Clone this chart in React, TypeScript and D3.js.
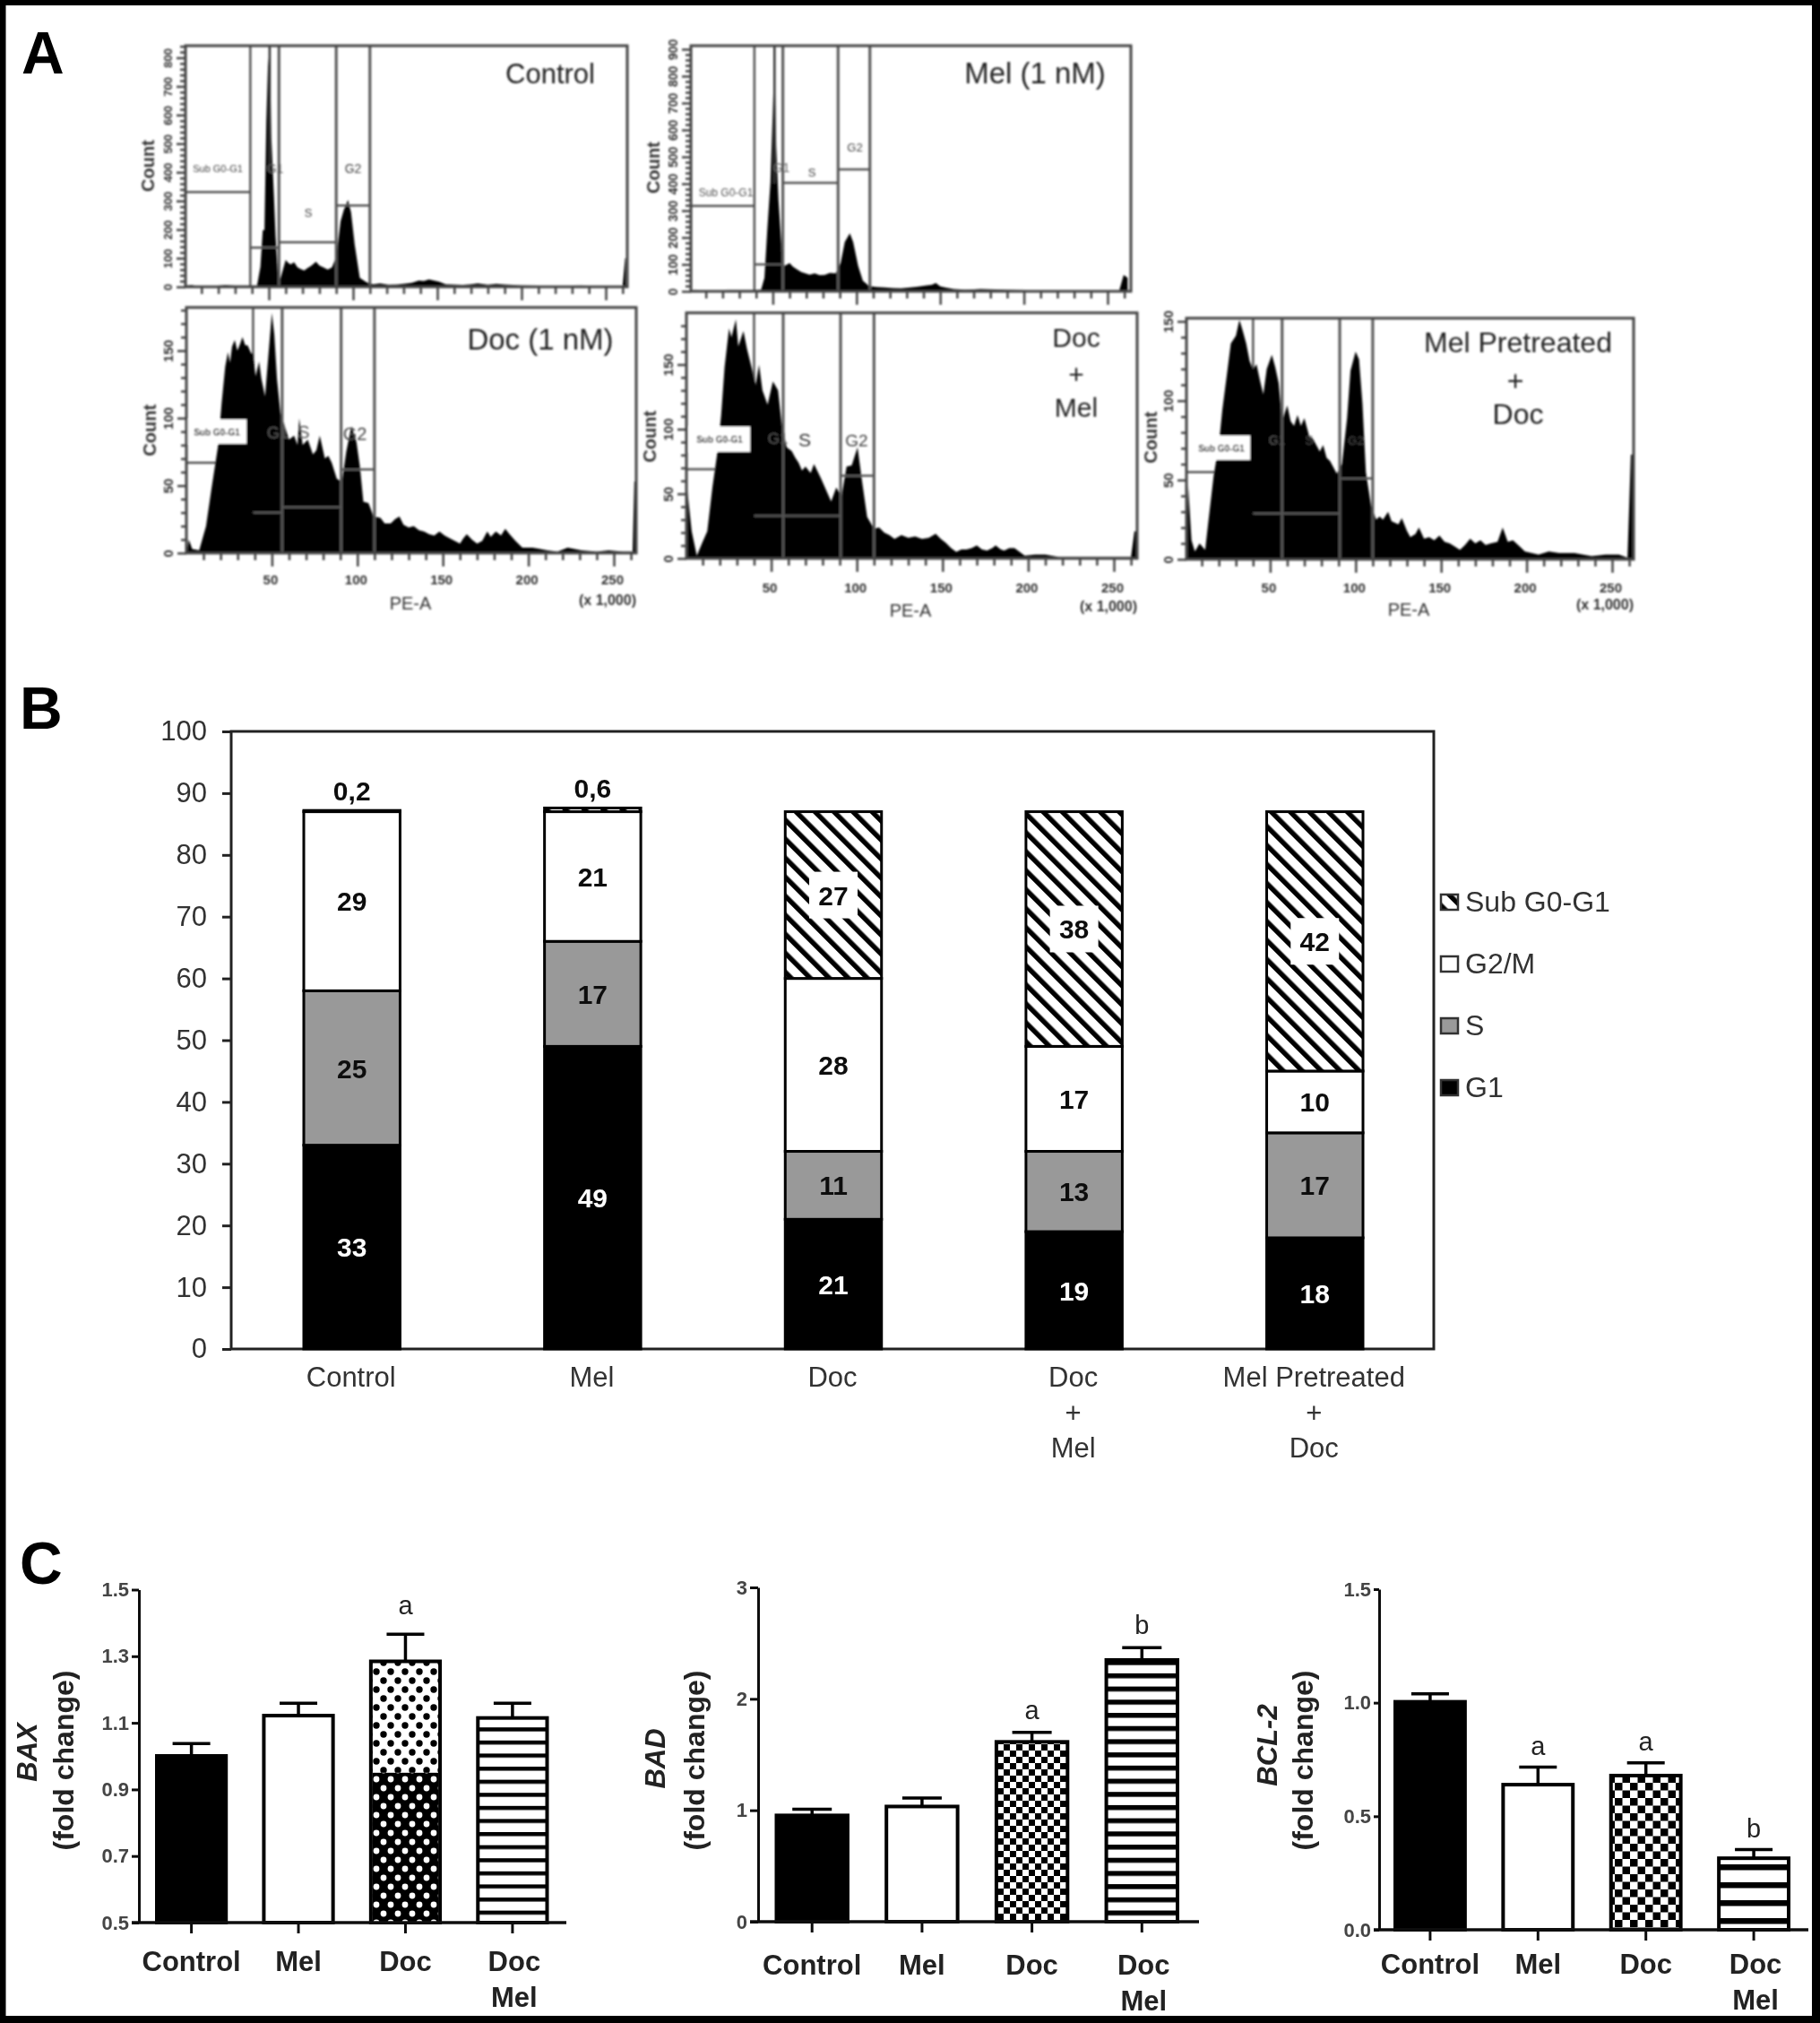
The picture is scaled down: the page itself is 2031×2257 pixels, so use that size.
import React, { useEffect, useRef } from "react";
import * as d3 from "d3";

const WIDTH = 2031;
const HEIGHT = 2257;
const FONT = "'Liberation Sans', Arial, Helvetica, sans-serif";

// ==========================
// Panel A: histograms as [PE-A (x 1,000), count]
// ==========================
const controlHist = [[0, 2], [1, 4], [4, 6], [7, 2], [18, 2], [24, 6], [30, 4], [38, 4], [43, 4], [45, 70], [46.4, 198], [47.4, 198], [48.5, 572], [49.5, 770], [50.5, 832], [51.5, 520], [53, 322], [54, 177], [55.6, 21], [57, 31], [60, 94], [61.5, 84], [63, 78], [65, 86], [67, 68], [69, 62], [71, 57], [73, 66], [75, 73], [78, 88], [80, 74], [82.3, 68], [85, 60], [87.5, 68], [90, 104], [92.6, 229], [94.6, 270], [97, 304], [98.8, 260], [101, 146], [104, 31], [108, 16], [112, 9], [116, 12], [121, 7], [126, 8], [131, 11], [135, 14], [139, 22], [142, 20], [145, 26], [148, 22], [151, 18], [155, 9], [159, 8], [165, 6], [170, 9], [174, 12], [180, 7], [185, 10], [190, 8], [200, 5], [211, 3], [222, 2], [235, 4], [248, 2], [260, 2], [261.5, 100], [262, 100]];

const melHist = [[0, 2], [3, 4], [12, 2], [24, 4], [32, 4], [39, 4], [43, 6], [45, 50], [46.7, 228], [48.6, 405], [50, 672], [51, 870], [52, 540], [53.4, 339], [55.3, 161], [57, 94], [60, 105], [62, 92], [64, 83], [67, 72], [69.5, 67], [72, 62], [75, 67], [78, 60], [81, 61], [84, 68], [87.6, 67], [90.5, 105], [93, 183], [96, 216], [98, 183], [101, 94], [103.8, 39], [107.6, 19], [112, 16], [117, 14], [122, 12], [126.6, 11], [132, 14], [136, 17], [141.7, 22], [145, 24], [147.4, 31], [150, 18], [153, 14], [158, 8], [164.6, 6], [170, 7], [174, 8], [183, 7], [193, 5], [212, 2], [240, 2], [257, 3], [259.6, 61], [262, 50]];

const docHist = [[0, 0], [1.4, 10], [3.4, 3], [7.5, 2], [11.5, 20], [14.6, 47], [18.6, 80], [20.6, 111], [22.7, 138], [24.3, 149], [25.5, 141], [26.7, 153], [28.3, 158], [29.8, 150], [31.4, 155], [32.8, 160], [34.4, 154], [35.8, 154], [37.9, 148], [38.9, 148], [40.5, 131], [42.5, 142], [43.9, 129], [46, 116], [48, 147], [50, 178], [51.4, 162], [53, 129], [55, 104], [57, 96], [60, 84], [63, 87], [65, 80], [66, 100], [68, 80], [71, 84], [74, 73], [76, 76], [78, 87], [81, 70], [83, 72], [85, 67], [88, 55], [91, 53], [93.5, 75], [96.5, 94], [99.5, 82], [101.5, 64], [103.5, 38], [106.5, 37], [109.5, 27], [113.5, 26], [116, 22], [119.5, 22], [122, 25], [124.6, 27], [127, 21], [130, 19], [133, 20], [136, 17], [139, 16], [142, 14], [145, 13], [148, 16], [151, 13], [154, 11], [157, 9], [160, 7], [162, 11], [164, 14], [167, 10], [170, 7], [173, 9], [176, 16], [178, 12], [181, 16], [184, 13], [186.5, 18], [189, 14], [192.5, 9], [196.5, 4], [202.5, 4], [207, 3], [211, 2], [217, 1], [223, 4], [231, 2], [240, 1], [247, 2], [255, 1], [261, 1], [262, 53], [263, 53]];

const docMelHist = [[0, 0], [1, 53], [3.6, 21], [6.6, 2], [9.7, 12], [12.7, 21], [15.7, 55], [18.7, 83], [20.8, 111], [22.8, 148], [25.4, 178], [26.8, 171], [29.4, 185], [30.8, 164], [33.8, 176], [35.9, 162], [38.9, 146], [40.9, 134], [42.9, 150], [44.9, 130], [47.9, 119], [51, 137], [54, 130], [56, 106], [59, 86], [62, 83], [64, 78], [66, 74], [68, 68], [70, 71], [73, 66], [75, 73], [79, 62], [82, 53], [85, 44], [88, 55], [91, 48], [94, 71], [97, 72], [100.4, 86], [103, 60], [106, 32], [110, 23], [113, 24], [116, 20], [119, 18], [122, 15], [126, 18], [130, 16], [134, 17], [138, 15], [142, 16], [146, 19], [149, 15], [152, 12], [155, 8], [158, 5], [161, 7], [164, 7], [167, 8], [170, 10], [173, 7], [176, 6], [179, 8], [181, 10], [184, 7], [186, 6], [189, 8], [192, 8], [198, 2], [204, 3], [210, 3], [218, 1], [240, 1], [260, 1], [262, 21], [264, 21]];

const melPreHist = [[0, 0], [1.4, 20], [2, 47], [4, 12], [6, 5], [8.7, 10], [12, 6], [14, 25], [17, 53], [20, 72], [22, 94], [25, 119], [27, 136], [30, 141], [32, 151], [34, 144], [36, 136], [38, 125], [40, 120], [42, 123], [44, 113], [46, 104], [48, 120], [51, 129], [53, 121], [55, 111], [57, 87], [60, 97], [62, 87], [64, 84], [66, 91], [68, 84], [70, 89], [73, 77], [75, 76], [77, 72], [79, 68], [81, 72], [83, 64], [85, 62], [89, 54], [92, 60], [95, 89], [97, 119], [100, 131], [102, 126], [104, 98], [106, 55], [109, 34], [112, 25], [114, 27], [116, 25], [119, 30], [121, 24], [123, 23], [125, 22], [127, 26], [130, 18], [132, 14], [135, 16], [137, 20], [140, 13], [143, 14], [146, 12], [149, 15], [152, 11], [155, 10], [158, 8], [161, 6], [164, 9], [167, 13], [170, 10], [173, 12], [176, 9], [179, 10], [183, 11], [186, 20], [189, 11], [192, 12], [196, 8], [199, 5], [207, 3], [213, 5], [219, 4], [228, 4], [238, 2], [246, 3], [254, 3], [259, 1], [261, 66], [263, 66]];

// ==========================
// Panel B: cell cycle percentages
// ==========================
const phaseGroups = ["Control", "Mel", "Doc", "Doc + Mel", "Mel Pretreated + Doc"];
const phaseKeys = ["G1", "S", "G2/M", "Sub G0-G1"];
const g1Values = [33, 49, 21, 19, 18];
const sValues = [25, 17, 11, 13, 17];
const g2Values = [29, 21, 28, 17, 10];
const subValues = [0.2, 0.6, 27, 38, 42];
const subLabels = ["0,2", "0,6", "27", "38", "42"];
const phaseTicks = [0, 10, 20, 30, 40, 50, 60, 70, 80, 90, 100];
const groupLabelLines = [["Control"], ["Mel"], ["Doc"], ["Doc", "+", "Mel"], ["Mel Pretreated", "+", "Doc"]];

// ==========================
// Panel C: fold changes
// ==========================
const foldGroups = ["Control", "Mel", "Doc", "Doc Mel"];
const baxValues = [1.006, 1.127, 1.29, 1.12];
const baxErrors = [1.038, 1.159, 1.366, 1.159];
const baxLetters = ["", "", "a", ""];
const badValues = [0.97, 1.05, 1.63, 2.365];
const badErrors = [1.01, 1.11, 1.7, 2.46];
const badLetters = ["", "", "a", "b"];
const bclValues = [1.012, 0.647, 0.687, 0.323];
const bclErrors = [1.039, 0.716, 0.735, 0.353];
const bclLetters = ["", "a", "a", "b"];

// layout of the five histograms, in page pixels
const histPanels = [
  {
    data: controlHist, left: 207, right: 700, top: 51, base: 320, x0: 206, x250: 676, topCount: 842,
    gates: [39, 56, 90, 110], levels: [331, 137, 156, 284], yMinor: 20, yMajor: 100, yMax: 800, yFont: 13,
    xLabels: false, countX: 165, countY: 185, peak: 50.5,
  },
  {
    data: melHist, left: 771, right: 1262, top: 51, base: 325, x0: 769, x250: 1236, topCount: 913,
    gates: [39, 56, 89, 108], levels: [317, 100, 403, 453], yMinor: 20, yMajor: 100, yMax: 900, yFont: 14,
    xLabels: false, countX: 729, countY: 187, peak: 51,
  },
  {
    data: docHist, left: 208, right: 710, top: 343, base: 617, x0: 208, x250: 685, topCount: 182,
    gates: [39, 56, 90.5, 110], levels: [67, 30, 34, 62], yMinor: 10, yMajor: 50, yMax: 150, yFont: 15,
    xLabels: true, countX: 167, countY: 480, tickBase: 652, peX: 458, peBase: 680, kBase: 675,
    box: [209, 468, 66, 27],
  },
  {
    data: docMelHist, left: 766, right: 1269, top: 349, base: 623, x0: 765, x250: 1243, topCount: 190,
    gates: [40, 57, 90.5, 110], levels: [69, 33, 33, 64], yMinor: 10, yMajor: 50, yMax: 150, yFont: 15,
    xLabels: true, countX: 725, countY: 487, tickBase: 661, peX: 1016, peBase: 688, kBase: 682,
    box: [769, 476, 68, 28],
  },
  {
    data: melPreHist, left: 1324, right: 1823, top: 355, base: 624, x0: 1322, x250: 1799, topCount: 152,
    gates: [40, 57, 90.7, 110], levels: [55, 29, 29, 51], yMinor: 10, yMajor: 50, yMax: 150, yFont: 15,
    xLabels: true, countX: 1284, countY: 488, tickBase: 661, peX: 1572, peBase: 687, kBase: 680,
    box: [1331, 486, 64, 27],
  },
];

// text placed by hand on panel A
const histTexts = [
  { t: "Control", x: 614, y: 93, size: 31, fill: "#222" },
  { t: "Mel (1 nM)", x: 1155, y: 93, size: 33, fill: "#222" },
  { t: "Doc (1 nM)", x: 603, y: 390, size: 33, fill: "#222" },
  { t: "Doc", x: 1201, y: 387, size: 30, fill: "#222" },
  { t: "+", x: 1201, y: 428, size: 30, fill: "#222" },
  { t: "Mel", x: 1201, y: 465, size: 30, fill: "#222" },
  { t: "Mel Pretreated", x: 1694, y: 393, size: 32, fill: "#222" },
  { t: "+", x: 1691, y: 436, size: 32, fill: "#222" },
  { t: "Doc", x: 1694, y: 473, size: 32, fill: "#222" },
  { t: "Sub G0-G1", x: 243, y: 192, size: 11, fill: "#444" },
  { t: "G1", x: 307, y: 193, size: 14, fill: "#555" },
  { t: "S", x: 344, y: 242, size: 13, fill: "#444" },
  { t: "G2", x: 394, y: 193, size: 14, fill: "#444" },
  { t: "Sub G0-G1", x: 810, y: 219, size: 12, fill: "#555" },
  { t: "G1", x: 872, y: 192, size: 14, fill: "#666" },
  { t: "S", x: 906, y: 197, size: 13, fill: "#444" },
  { t: "G2", x: 954, y: 169, size: 13, fill: "#444" },
  { t: "Sub G0-G1", x: 242, y: 486, size: 10, fill: "#222", weight: "bold" },
  { t: "G1", x: 310, y: 489, size: 18, fill: "#555" },
  { t: "S", x: 339, y: 489, size: 20, fill: "#555" },
  { t: "G2", x: 396, y: 491, size: 20, fill: "#444" },
  { t: "Sub G0-G1", x: 803, y: 494, size: 10, fill: "#222", weight: "bold" },
  { t: "G1", x: 868, y: 495, size: 17, fill: "#555" },
  { t: "S", x: 898, y: 498, size: 21, fill: "#333" },
  { t: "G2", x: 956, y: 498, size: 19, fill: "#444" },
  { t: "Sub G0-G1", x: 1363, y: 504, size: 10, fill: "#222", weight: "bold" },
  { t: "G1", x: 1425, y: 496, size: 14, fill: "#555" },
  { t: "S", x: 1461, y: 496, size: 14, fill: "#444" },
  { t: "G2", x: 1513, y: 496, size: 13, fill: "#444" },
];

// the three bar charts of panel C
const foldCharts = [
  {
    values: baxValues, errors: baxErrors, letters: baxLetters,
    domain: [0.5, 1.5], ticks: [0.5, 0.7, 0.9, 1.1, 1.3, 1.5], format: ".1f",
    axisX: 155, top: 1773.5, base: 2145, barLeft: 173, barRight: 612.5, axisEnd: 632, tickIn: 8,
    fills: ["#000", "#fff", "url(#dotsLight)", "url(#linesFine)"], letterGap: 22, capWidth: 42,
    name: "BAX", nameX: 41, foldX: 81.5, nameY: 1955, labelBase: 54, labelShift: 0,
  },
  {
    values: badValues, errors: badErrors, letters: badLetters,
    domain: [0, 3], ticks: [0, 1, 2, 3], format: "d",
    axisX: 846, top: 1771, base: 2144, barLeft: 864.5, barRight: 1316, axisEnd: 1338, tickIn: 9,
    fills: ["#000", "#fff", "url(#checkFine)", "url(#linesMid)"], letterGap: 15, capWidth: 44,
    name: "BAD", nameX: 742, foldX: 786, nameY: 1962, labelBase: 59, labelShift: 0,
  },
  {
    values: bclValues, errors: bclErrors, letters: bclLetters,
    domain: [0, 1.5], ticks: [0, 0.5, 1, 1.5], format: ".1f",
    axisX: 1539, top: 1773, base: 2153, barLeft: 1555, barRight: 1998, axisEnd: 2018, tickIn: 6,
    fills: ["#000", "#fff", "url(#checkWide)", "url(#linesWide)"], letterGap: 14, capWidth: 42,
    name: "BCL-2", nameX: 1425, foldX: 1465, nameY: 1947, labelBase: 49, labelShift: 0,
  },
];

function addPatterns(defs) {
  const hatch = defs.append("pattern").attr("id", "hatch").attr("patternUnits", "userSpaceOnUse")
    .attr("width", 15).attr("height", 15).attr("patternTransform", "rotate(-45)");
  hatch.append("rect").attr("width", 15).attr("height", 15).attr("fill", "#fff");
  hatch.append("rect").attr("width", 5.5).attr("height", 15).attr("fill", "#000");

  const dots = (id, r, rx, ry, bg, fg) => {
    const p = defs.append("pattern").attr("id", id).attr("patternUnits", "userSpaceOnUse")
      .attr("width", rx * 2).attr("height", ry * 2);
    p.append("rect").attr("width", rx * 2).attr("height", ry * 2).attr("fill", bg);
    p.append("circle").attr("cx", rx / 2).attr("cy", ry / 2).attr("r", r).attr("fill", fg);
    p.append("circle").attr("cx", rx * 1.5).attr("cy", ry * 1.5).attr("r", r).attr("fill", fg);
  };
  dots("dotsLight", 3.7, 8, 10, "#fff", "#000");
  dots("dotsDense", 3.4, 8, 10, "#000", "#fff");

  const check = (id, cell) => {
    const p = defs.append("pattern").attr("id", id).attr("patternUnits", "userSpaceOnUse")
      .attr("width", cell * 2).attr("height", cell * 2);
    p.append("rect").attr("width", cell * 2).attr("height", cell * 2).attr("fill", "#fff");
    p.append("rect").attr("width", cell).attr("height", cell).attr("fill", "#000");
    p.append("rect").attr("x", cell).attr("y", cell).attr("width", cell).attr("height", cell).attr("fill", "#000");
  };
  check("checkFine", 7);
  check("checkWide", 8.5);

  const lines = (id, period, thick) => {
    const p = defs.append("pattern").attr("id", id).attr("patternUnits", "userSpaceOnUse")
      .attr("width", 20).attr("height", period);
    p.append("rect").attr("width", 20).attr("height", period).attr("fill", "#fff");
    p.append("rect").attr("width", 20).attr("height", thick).attr("fill", "#000");
  };
  lines("linesFine", 14.6, 4.5);
  lines("linesMid", 14.7, 5.5);
  lines("linesWide", 20, 6.5);
}

function drawHistogram(root, defs, panel, index) {
  const x = d3.scaleLinear().domain([0, 250]).range([panel.x0, panel.x250]);
  const y = d3.scaleLinear().domain([0, panel.topCount]).range([panel.base, panel.top]);
  const g = root.append("g").attr("font-family", FONT);

  defs.append("clipPath").attr("id", `frame${index}`).append("rect")
    .attr("x", panel.left).attr("y", panel.top)
    .attr("width", panel.right - panel.left).attr("height", panel.base - panel.top);

  const [g1, g2, g3, g4] = panel.gates;
  const [subLevel, g1Level, sLevel, g2Level] = panel.levels;
  const gateColor = "#555";

  // these two sit under the black histogram
  g.append("line").attr("x1", x(g1)).attr("x2", x(g1)).attr("y1", panel.top).attr("y2", panel.base)
    .attr("stroke", gateColor).attr("stroke-width", 2.5);
  g.append("line").attr("x1", panel.left).attr("x2", x(g1)).attr("y1", y(subLevel)).attr("y2", y(subLevel))
    .attr("stroke", gateColor).attr("stroke-width", 2.5);

  const area = d3.area().x(d => x(d[0])).y0(panel.base).y1(d => y(d[1]));
  g.append("path").datum(panel.data).attr("d", area).attr("fill", "#000")
    .attr("clip-path", `url(#frame${index})`);

  // the G1 peak of the untreated panels runs on to the frame as a thin dark line
  if (panel.peak) {
    g.append("line").attr("x1", x(panel.peak)).attr("x2", x(panel.peak)).attr("y1", panel.top).attr("y2", y(400))
      .attr("stroke", "#333").attr("stroke-width", 2.5);
  }

  [g2, g3, g4].forEach(v => {
    g.append("line").attr("x1", x(v)).attr("x2", x(v)).attr("y1", panel.top).attr("y2", panel.base)
      .attr("stroke", gateColor).attr("stroke-width", 3);
  });
  [[g1, g2, g1Level], [g2, g3, sLevel], [g3, g4, g2Level]].forEach(([a, b, level]) => {
    g.append("line").attr("x1", x(a)).attr("x2", x(b)).attr("y1", y(level)).attr("y2", y(level))
      .attr("stroke", gateColor).attr("stroke-width", 2.5);
  });

  if (panel.box) {
    g.append("rect").attr("x", panel.box[0]).attr("y", panel.box[1])
      .attr("width", panel.box[2]).attr("height", panel.box[3]).attr("fill", "#fff");
  }

  g.append("rect").attr("x", panel.left).attr("y", panel.top)
    .attr("width", panel.right - panel.left).attr("height", panel.base - panel.top)
    .attr("fill", "none").attr("stroke", "#444").attr("stroke-width", 3);

  // count axis
  const yAxis = d3.axisLeft(y)
    .tickValues(d3.range(0, panel.topCount, panel.yMinor))
    .tickFormat(d => (d % panel.yMajor === 0 && d <= panel.yMax ? d : ""))
    .tickSizeOuter(0);
  const yG = g.append("g").attr("transform", `translate(${panel.left},0)`).call(yAxis);
  yG.select(".domain").remove();
  yG.selectAll("line").attr("x2", d => (d % panel.yMajor === 0 ? -10 : -6))
    .attr("stroke", "#444").attr("stroke-width", 2.5);
  yG.selectAll("text").attr("transform", "rotate(-90)")
    .attr("x", 0).attr("y", -15).attr("dy", 0)
    .attr("text-anchor", "middle").attr("font-size", panel.yFont)
    .attr("font-weight", "bold").attr("font-family", FONT).attr("fill", "#333");

  // PE-A axis
  const xAxis = d3.axisBottom(x)
    .tickValues(d3.range(10, 261, 10))
    .tickFormat(d => (panel.xLabels && d % 50 === 0 ? d : ""))
    .tickSizeOuter(0);
  const xG = g.append("g").attr("transform", `translate(0,${panel.base})`).call(xAxis);
  xG.select(".domain").remove();
  xG.selectAll("line").attr("y2", d => (d % 50 === 0 ? 15 : 8))
    .attr("stroke", "#444").attr("stroke-width", 2.5);
  xG.selectAll("text").attr("y", (panel.tickBase || 0) - panel.base).attr("dy", 0).attr("x", -2)
    .attr("font-size", 15).attr("font-weight", "bold").attr("font-family", FONT).attr("fill", "#333");

  g.append("text").attr("transform", `translate(${panel.countX + 7},${panel.countY}) rotate(-90)`)
    .attr("text-anchor", "middle").attr("font-size", 20).attr("font-weight", "bold").attr("fill", "#333")
    .text("Count");

  if (panel.xLabels) {
    g.append("text").attr("x", panel.peX).attr("y", panel.peBase).attr("text-anchor", "middle")
      .attr("font-size", 20).attr("fill", "#333").text("PE-A");
    g.append("text").attr("x", panel.right).attr("y", panel.kBase).attr("text-anchor", "end")
      .attr("font-size", 16).attr("font-weight", "bold").attr("fill", "#333").text("(x 1,000)");
  }
}

function drawStacked(root) {
  const rows = phaseGroups.map((group, i) => ({
    group,
    G1: g1Values[i],
    S: sValues[i],
    "G2/M": g2Values[i],
    "Sub G0-G1": subValues[i],
  }));
  const series = d3.stack().keys(phaseKeys)(rows);

  const x = d3.scaleBand().domain(phaseGroups).range([339, 1521]).paddingInner(0.6).paddingOuter(0);
  const y = d3.scaleLinear().domain([0, 100]).range([1505, 816]);
  const fills = { G1: "#000", S: "#999", "G2/M": "#fff", "Sub G0-G1": "url(#hatch)" };

  const g = root.append("g").attr("font-family", FONT);

  g.append("rect").attr("x", 258).attr("y", y(100)).attr("width", 1342).attr("height", y(0) - y(100))
    .attr("fill", "none").attr("stroke", "#222").attr("stroke-width", 3);

  const yAxis = d3.axisLeft(y).tickValues(phaseTicks).tickSize(10).tickSizeOuter(0).tickPadding(17);
  const yG = g.append("g").attr("transform", "translate(258,0)").call(yAxis);
  yG.select(".domain").remove();
  yG.selectAll("line").attr("stroke", "#222").attr("stroke-width", 3);
  yG.selectAll("text").attr("font-size", 31).attr("font-family", FONT).attr("fill", "#333");

  series.forEach(s => {
    g.selectAll(null).data(s).enter().append("rect")
      .attr("x", d => x(d.data.group))
      .attr("y", d => y(d[1]))
      .attr("width", x.bandwidth())
      .attr("height", d => y(d[0]) - y(d[1]))
      .attr("fill", fills[s.key])
      .attr("stroke", "#000")
      .attr("stroke-width", 3);
  });

  const cx = d => x(d.data.group) + x.bandwidth() / 2;

  series.forEach(s => {
    if (s.key === "Sub G0-G1") return;
    g.selectAll(null).data(s).enter().append("text")
      .attr("x", cx)
      .attr("y", d => y((d[0] + d[1]) / 2) + 11)
      .attr("text-anchor", "middle").attr("font-size", 30).attr("font-weight", "bold")
      .attr("fill", s.key === "G1" ? "#fff" : "#111")
      .text(d => d[1] - d[0]);
  });

  const subSeries = series[3];
  subSeries.forEach((d, i) => {
    const small = subValues[i] < 1;
    const mid = y((d[0] + d[1]) / 2);
    if (!small) {
      g.append("rect").attr("x", cx(d) - 27).attr("y", mid - 26).attr("width", 54).attr("height", 52).attr("fill", "#fff");
    }
    g.append("text").attr("x", cx(d)).attr("y", small ? y(d[1]) - 11 : mid + 11)
      .attr("text-anchor", "middle").attr("font-size", 30).attr("font-weight", "bold").attr("fill", "#111")
      .text(subLabels[i]);
  });

  // group labels, one to three lines each
  groupLabelLines.forEach((lines, i) => {
    lines.forEach((line, j) => {
      g.append("text").attr("x", x(phaseGroups[i]) + x.bandwidth() / 2 - 1).attr("y", 1547 + j * 39.5)
        .attr("text-anchor", "middle").attr("font-size", 31).attr("fill", "#333").text(line);
    });
  });

  // legend
  const legendY = d3.scalePoint().domain(phaseKeys).range([1214, 1007]);
  phaseKeys.forEach(key => {
    g.append("rect").attr("x", 1608).attr("y", legendY(key) - 9).attr("width", 19).attr("height", 17)
      .attr("fill", fills[key]).attr("stroke", "#333").attr("stroke-width", 2.5);
    g.append("text").attr("x", 1635).attr("y", legendY(key) + 10).attr("font-size", 32).attr("fill", "#333").text(key);
  });
}

function drawFoldChart(root, chart) {
  const g = root.append("g").attr("font-family", FONT);
  const x = d3.scaleBand().domain(foldGroups).range([chart.barLeft, chart.barRight]).paddingInner(0.32).paddingOuter(0);
  const y = d3.scaleLinear().domain(chart.domain).range([chart.base, chart.top]);
  const floor = chart.domain[0];

  foldGroups.forEach((group, i) => {
    const bx = x(group);
    const bw = x.bandwidth();
    const cx = bx + bw / 2;
    const capHalf = chart.capWidth / 2;
    const barTop = y(chart.values[i]) + 2;
    g.append("line").attr("x1", cx).attr("x2", cx).attr("y1", barTop).attr("y2", y(chart.errors[i]))
      .attr("stroke", "#000").attr("stroke-width", 3.5);
    g.append("line").attr("x1", cx - capHalf).attr("x2", cx + capHalf).attr("y1", y(chart.errors[i])).attr("y2", y(chart.errors[i]))
      .attr("stroke", "#000").attr("stroke-width", 3.5);
    g.append("rect").attr("x", bx + 2).attr("y", barTop)
      .attr("width", bw - 4).attr("height", y(floor) - barTop)
      .attr("fill", chart.fills[i]).attr("stroke", "#000").attr("stroke-width", 4);
    if (chart.fills[i] === "url(#dotsLight)") {
      // the lower part of this bar prints darker in the figure
      g.append("rect").attr("x", bx + 4).attr("y", y(0.95))
        .attr("width", bw - 8).attr("height", y(floor) - y(0.95)).attr("fill", "url(#dotsDense)");
    }
    if (chart.letters[i]) {
      g.append("text").attr("x", cx).attr("y", y(chart.errors[i]) - chart.letterGap)
        .attr("text-anchor", "middle").attr("font-size", 29).attr("fill", "#222").text(chart.letters[i]);
    }
  });

  const yAxis = d3.axisLeft(y).tickValues(chart.ticks).tickSize(chart.tickIn).tickSizeOuter(0)
    .tickPadding(3).tickFormat(d3.format(chart.format));
  const yG = g.append("g").attr("transform", `translate(${chart.axisX},0)`).call(yAxis);
  yG.select(".domain").attr("stroke", "#111").attr("stroke-width", 3);
  yG.selectAll("line").attr("stroke", "#111").attr("stroke-width", 3);
  yG.selectAll("text").attr("font-size", 22).attr("font-weight", "bold").attr("font-family", FONT).attr("fill", "#444");

  g.append("line").attr("x1", chart.axisX - chart.tickIn).attr("x2", chart.axisEnd)
    .attr("y1", chart.base).attr("y2", chart.base).attr("stroke", "#111").attr("stroke-width", 3.5);

  const xAxis = d3.axisBottom(x).tickSize(12).tickSizeOuter(0).tickFormat(() => "");
  const xG = g.append("g").attr("transform", `translate(0,${chart.base})`).call(xAxis);
  xG.select(".domain").remove();
  xG.selectAll("line").attr("stroke", "#111").attr("stroke-width", 3);

  foldGroups.forEach(group => {
    group.split(" ").forEach((word, j) => {
      g.append("text").attr("x", x(group) + x.bandwidth() / 2 + chart.labelShift + (group === "Doc Mel" ? 2 : 0))
        .attr("y", chart.base + chart.labelBase + j * 39.5)
        .attr("text-anchor", "middle").attr("font-size", 31).attr("font-weight", "bold").attr("fill", "#222")
        .text(word);
    });
  });

  g.append("text").attr("transform", `translate(${chart.nameX},${chart.nameY}) rotate(-90)`)
    .attr("text-anchor", "middle").attr("font-size", 31).attr("font-weight", "bold").attr("font-style", "italic")
    .attr("fill", "#222").text(chart.name);
  g.append("text").attr("transform", `translate(${chart.foldX},1964) rotate(-90)`)
    .attr("text-anchor", "middle").attr("font-size", 32).attr("font-weight", "bold")
    .attr("fill", "#222").text("(fold change)");
}

export default function App() {
  const ref = useRef(null);

  useEffect(() => {
    const svg = d3.select(ref.current);
    svg.selectAll("*").remove();

    const defs = svg.append("defs");
    addPatterns(defs);
    const addBlur = (id, amount) => {
      defs.append("filter").attr("id", id).attr("filterUnits", "userSpaceOnUse")
        .attr("x", 0).attr("y", 0).attr("width", WIDTH).attr("height", HEIGHT)
        .append("feGaussianBlur").attr("stdDeviation", amount);
    };
    addBlur("soft", 0.6);
    addBlur("softer", 0.9);

    // black picture border
    svg.append("rect").attr("width", WIDTH).attr("height", HEIGHT).attr("fill", "#000");
    svg.append("rect").attr("x", 6.5).attr("y", 6).attr("width", 2015.5).attr("height", 2243).attr("fill", "#fff");

    const histRoot = svg.append("g").attr("filter", "url(#softer)");
    const root = svg.append("g").attr("filter", "url(#soft)");

    histPanels.forEach((panel, i) => drawHistogram(histRoot, defs, panel, i));
    histTexts.forEach(d => {
      histRoot.append("text").attr("x", d.x).attr("y", d.y).attr("text-anchor", "middle")
        .attr("font-family", FONT).attr("font-size", d.size).attr("font-weight", d.weight || "normal")
        .attr("fill", d.fill).text(d.t);
    });

    drawStacked(root);
    foldCharts.forEach(chart => drawFoldChart(root, chart));

    [["A", 24, 82], ["B", 22, 813], ["C", 22, 1767]].forEach(([t, x, y]) => {
      root.append("text").attr("x", x).attr("y", y).attr("font-family", FONT)
        .attr("font-size", 66).attr("font-weight", "bold").attr("fill", "#000").text(t);
    });
  }, []);

  return <svg ref={ref} width={WIDTH} height={HEIGHT} style={{ position: "absolute", left: 0, top: 0, display: "block" }} />;
}
